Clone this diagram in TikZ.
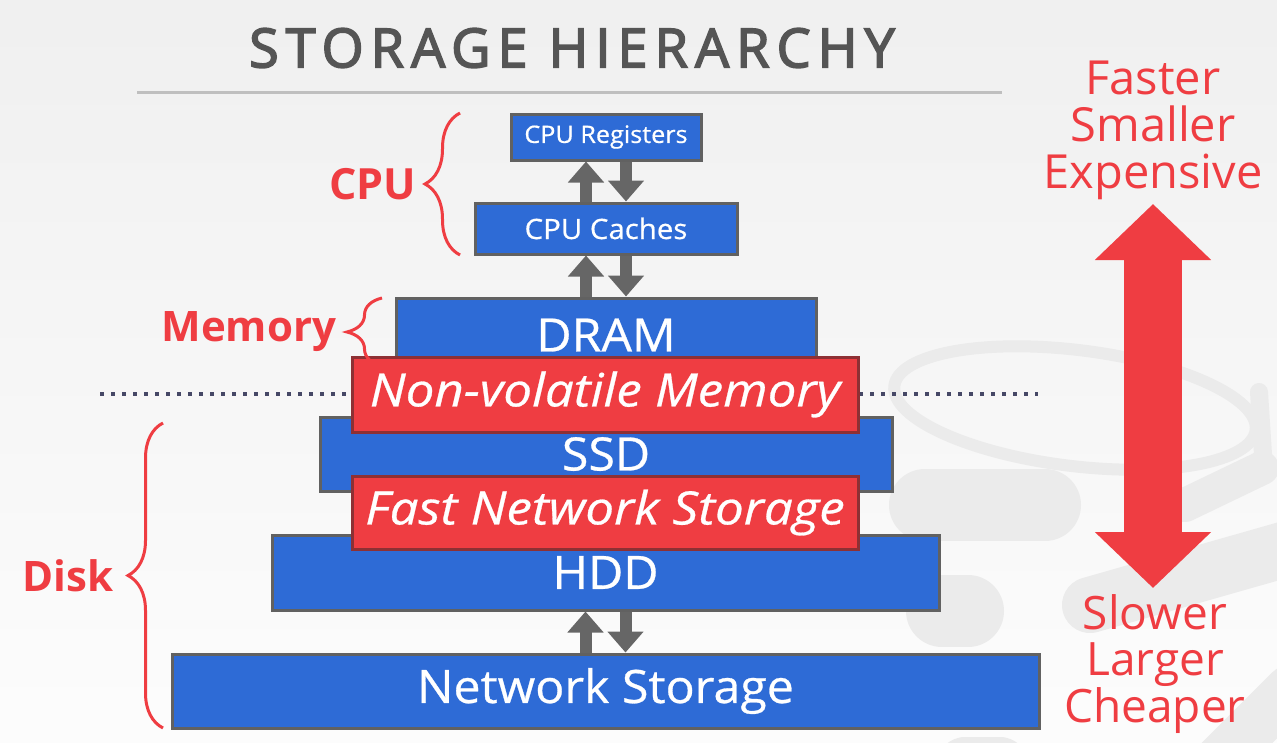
\documentclass[tikz,border=0pt]{standalone}
\usepackage{fontspec}
\setmainfont{Open Sans}
\newfontfamily\titulofont[LetterSpace=13, FakeBold=3]{Open Sans}
\newfontfamily\cajafont[FakeStretch=1.05, FakeBold=0.6]{Open Sans}
\newfontfamily\rojafont[FakeStretch=1.11, FakeBold=0.6]{Open Sans}
\usetikzlibrary{arrows.meta,decorations.pathreplacing,positioning}
\definecolor{cajaazul}{HTML}{2E6BD6}
\definecolor{rojo}{HTML}{EF3D42}
\definecolor{bordegris}{HTML}{616161}
\definecolor{borderojo}{HTML}{8E3034}
\definecolor{flechagris}{HTML}{666666}
\definecolor{marca}{HTML}{EBEBEB}
\definecolor{titulogris}{HTML}{555555}
\definecolor{puntos}{HTML}{464866}
\begin{document}
\begin{tikzpicture}[x=1pt,y=-1pt,
    azul/.style={draw=bordegris, line width=3pt, fill=cajaazul, text=white, inner sep=0pt},
    roja/.style={draw=borderojo, line width=3pt, fill=rojo, text=white, inner sep=0pt,
        font=\fontsize{46}{50}\rojafont\itshape},
    grande/.style={font=\fontsize{46}{50}\cajafont},
    rotulo/.style={text=rojo, font=\fontsize{44}{46}\selectfont},
    llave/.style={decorate, decoration={brace, amplitude=35pt}, draw=rojo, line width=3pt},
    subebaja/.style={draw=flechagris, line width=12pt, -{Triangle[width=35pt,length=21pt]}},
    marcaagua/.style={draw=marca, line cap=round}]
    % Fondo
    \clip (0,0) rectangle (1277,742);
    \shade[top color=black!6, bottom color=black!1] (0,0) rectangle (1277,742);
    % Marca de agua
    \draw[marcaagua, line width=12pt, rotate around={-7:(1075,408)}] (1075,408) ellipse (182 and 58);
    \draw[marcaagua, line width=72pt] (925,505) -- (1045,505);
    \draw[marcaagua, line width=34pt] (1185,505) -- (1262,468);
    \draw[marcaagua, line width=18pt] (1259,392) -- (1264,470);
    \draw[marcaagua, line width=72pt] (942,611) -- (968,611);
    \draw[marcaagua, line width=56pt] (1090,605) -- (1290,548);
    \draw[marcaagua, line width=56pt] (965,765) -- (1000,765);
    \draw[marcaagua, line width=50pt] (1215,765) -- (1290,690);
    % Titulo
    \node[text=titulogris, font={\fontsize{54}{60}\titulofont}] (titulo) at (572,48) {STORAGE HIERARCHY};
    \draw[draw=black!25, line width=3pt] (137,92) -- (1002,92);
    % Cajas azules
    \node[azul, minimum width=190pt, minimum height=46pt, font=\fontsize{24}{28}\cajafont] (registros) at (606,137) {CPU Registers};
    \node[azul, minimum width=262pt, minimum height=51pt, font=\fontsize{28}{30}\cajafont] (caches) at (606,228.5) {CPU Caches};
    \node[azul, grande, minimum width=420pt, minimum height=74pt] (dram) at (606,335) {DRAM};
    \node[azul, grande, minimum width=572pt, minimum height=74pt] (ssd) at (606,454) {SSD};
    \node[azul, grande, minimum width=667pt, minimum height=75pt] (hdd) at (605.5,572.5) {HDD};
    \node[azul, grande, minimum width=867pt, minimum height=74pt] (red) at (605.5,691) {Network Storage};
    % Linea punteada
    \draw[puntos, line width=4pt, dash pattern=on 4pt off 7pt] (100,394) -- (1038,394);
    % Cajas rojas
    \node[roja, minimum width=506pt, minimum height=75pt] (nvm) at (605,394.5) {Non-volatile Memory};
    \node[roja, minimum width=506pt, minimum height=73pt] (rapida) at (605,512.5) {Fast Network Storage};
    % Flechas grises
    \draw[subebaja] ([xshift=-20pt]caches.north) -- ([xshift=-20pt]registros.south);
    \draw[subebaja] ([xshift=20pt]registros.south) -- ([xshift=20pt]caches.north);
    \draw[subebaja] ([xshift=-20pt]dram.north) -- ([xshift=-20pt]caches.south);
    \draw[subebaja] ([xshift=20pt]caches.south) -- ([xshift=20pt]dram.north);
    \draw[subebaja] ([xshift=-20pt]red.north) -- ([xshift=-20pt]hdd.south);
    \draw[subebaja] ([xshift=20pt]hdd.south) -- ([xshift=20pt]red.north);
    % Llaves
    \draw[llave] (460,255) -- (460,113) node[rotulo, midway, anchor=east, xshift=-39pt, font=\fontsize{43}{46}\bfseries] (cpu) {CPU};
    \draw[llave] (382,366) -- (382,298) node[rotulo, midway, anchor=east, xshift=-41pt, font=\fontsize{42}{46}\bfseries] (memoria) {Memory};
    \draw[llave] (163,728) -- (163,423) node[rotulo, midway, anchor=east, xshift=-45pt, font=\fontsize{42}{46}\bfseries] (disco) {Disk};
    % Flecha roja
    \coordinate (arriba) at (1153,204);
    \coordinate (abajo) at (1153,588);
    \draw[draw=rojo, line width=58pt, {Triangle[width=113pt,length=56pt]}-{Triangle[width=113pt,length=56pt]}] (arriba) -- (abajo);
    \node[rotulo, align=center, font=\fontsize{47}{47}\selectfont] (rapido) at (1153,130) {Faster\\Smaller\\Expensive};
    \node[rotulo, align=center, font=\fontsize{46}{46.5}\selectfont] (lento) at (1155,664) {Slower\\Larger\\Cheaper};
\end{tikzpicture}
\end{document}
